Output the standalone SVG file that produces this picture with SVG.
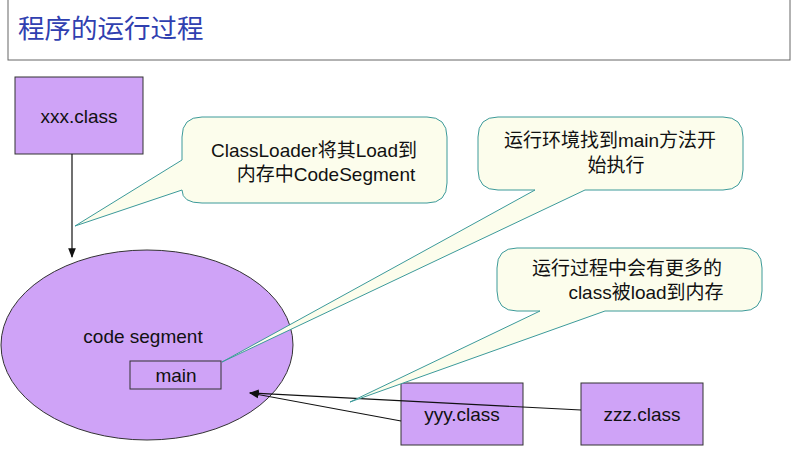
<svg xmlns="http://www.w3.org/2000/svg" width="793" height="473" viewBox="0 0 793 473">
<defs>
<style>
.box{fill:#cfa3f7;stroke:#333;stroke-width:1}
.call{fill:#fcfdec;stroke:#3c9a9a;stroke-width:1}
.t{font-family:"Liberation Sans","Noto Sans CJK SC",sans-serif;font-size:19px;fill:#111}
.c{stroke:#111;stroke-width:1.2;fill:none}
</style>
<marker id="a" viewBox="0 0 10 10" refX="9" refY="5" markerWidth="8" markerHeight="8" orient="auto"><path d="M0,1 L10,5 L0,9 Z" fill="#111"/></marker>
</defs>
<rect width="793" height="473" fill="#fff"/>
<g id="title"><rect x="8" y="-2" width="782" height="62" fill="#fff" stroke="#666"/>
<text x="18" y="38" font-family="Noto Sans CJK SC,sans-serif" font-size="26.5" fill="#3040b0">程序的运行过程</text></g>
<g id="seg"><ellipse cx="147" cy="345" rx="146" ry="95" class="box"/>
<text class="t" x="143" y="343" text-anchor="middle">code segment</text></g>
<g id="main"><rect x="130" y="361" width="91" height="28" class="box"/><text class="t" x="176" y="382" text-anchor="middle">main</text></g>
<g id="xxx"><rect x="15" y="77" width="128" height="77" class="box"/><text class="t" x="79" y="123" text-anchor="middle">xxx.class</text></g>
<g id="yyy"><rect x="401" y="383" width="122" height="62" class="box"/><text class="t" x="462" y="421" text-anchor="middle">yyy.class</text></g>
<g id="zzz"><rect x="581" y="383" width="122" height="62" class="box"/><text class="t" x="642" y="421" text-anchor="middle">zzz.class</text></g>
<g id="connectors">
<line x1="72" y1="154" x2="72" y2="257" class="c" marker-end="url(#a)"/>
<line x1="401" y1="421" x2="250" y2="393" class="c" marker-end="url(#a)"/>
<line x1="581" y1="410" x2="250" y2="393" class="c" marker-end="url(#a)"/>
</g>
<g id="callout1"><path class="call" d="M202,117 H427 Q447,117 447,137 V183 Q447,203 427,203 H202 Q182,203 182,190 L75,226 L182,160 V137 Q182,117 202,117 Z"/>
<text class="t" x="314" y="157" text-anchor="middle">ClassLoader将其Load到</text>
<text class="t" x="326" y="181" text-anchor="middle">内存中CodeSegment</text></g>
<g id="callout2"><path class="call" d="M498,117 H723 Q743,117 743,137 V170 Q743,190 723,190 H585 L222,362 L535,190 H498 Q478,190 478,170 V137 Q478,117 498,117 Z"/>
<text class="t" x="610" y="147" text-anchor="middle">运行环境找到main方法开</text>
<text class="t" x="616" y="172" text-anchor="middle">始执行</text></g>
<g id="callout3"><path class="call" d="M517,248 H742 Q762,248 762,268 V291 Q762,311 742,311 H605 L350,402 L540,311 H517 Q497,311 497,291 V268 Q497,248 517,248 Z"/>
<text class="t" x="627" y="275" text-anchor="middle">运行过程中会有更多的</text>
<text class="t" x="646" y="299" text-anchor="middle">class被load到内存</text></g>
</svg>
